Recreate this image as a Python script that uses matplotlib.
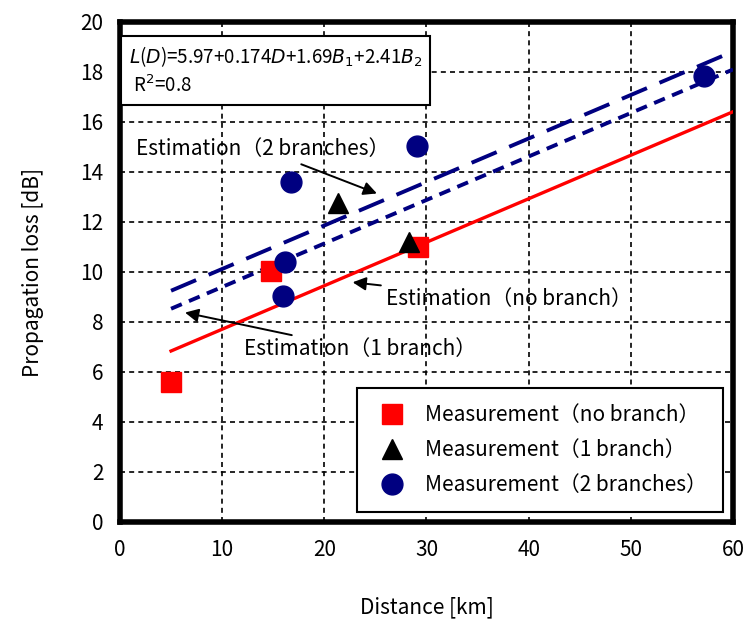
import numpy as np
import matplotlib.pyplot as plt

plt.rcParams['font.family'] = ['Noto Sans CJK JP', 'DejaVu Sans']

# measurements
d_nobranch = [5.0, 14.8, 29.2]
l_nobranch = [5.6, 10.05, 11.0]
d_1branch = [21.3, 28.3]
l_1branch = [12.75, 11.2]
d_2branch = [16.7, 16.2, 16.0, 29.1, 57.2]
l_2branch = [13.6, 10.4, 9.05, 15.05, 17.85]

# regression model L(D) = a + b*D + c1*B1 + c2*B2
a, b, c1, c2 = 5.97, 0.174, 1.69, 2.41
d_fit = np.array([5, 60])

fig = plt.figure(figsize=(7.47, 6.28), dpi=100)
ax = fig.add_axes([0.1606, 0.1688, 0.8207, 0.7962])

ax.plot(d_fit, a + b * d_fit, color='red', lw=2.4, zorder=3)
ax.plot(d_fit, a + b * d_fit + c1, color='#000080', lw=2.8, ls=(0, (3, 2)), zorder=3)
ax.plot(d_fit, a + b * d_fit + c2, color='#000080', lw=2.8, ls=(0, (7, 3.5)), zorder=3)

ax.plot(d_nobranch, l_nobranch, 's', color='red', ms=14, ls='none', zorder=4,
        label='Measurement（no branch）')
ax.plot(d_1branch, l_1branch, '^', color='black', ms=15, ls='none', zorder=4,
        label='Measurement（1 branch）')
ax.plot(d_2branch, l_2branch, 'o', color='#000080', ms=15, ls='none', zorder=4,
        label='Measurement（2 branches）')

ax.set_xlim(0, 60)
ax.set_ylim(0, 20)
ax.set_xticks(range(0, 61, 10))
ax.set_yticks(range(0, 21, 2))
ax.tick_params(labelsize=15, length=0, pad=12)
ax.grid(True, color='black', ls=(0, (3, 2.5)), lw=1.2)
for s in ax.spines.values():
    s.set_linewidth(4)

ax.set_xlabel('Distance [km]', fontsize=15, labelpad=26)
ax.set_ylabel('Propagation loss [dB]', fontsize=15, labelpad=26)

ax.text(0.014, 0.955,
        r'$L$($D$)=5.97+0.174$D$+1.69$B_1$+2.41$B_2$' + '\n' + r' R$^2$=0.8',
        transform=ax.transAxes, fontsize=13.5, va='top', ha='left', linespacing=1.4,
        bbox=dict(boxstyle='square,pad=0.4', fc='white', ec='black', lw=1.5), zorder=5)

arrow = dict(arrowstyle='-|>', color='black', lw=1.4, mutation_scale=20)
ax.annotate('Estimation（2 branches）', xy=(25.4, 13.1), xytext=(1.6, 14.9),
            fontsize=15, va='center', ha='left', arrowprops=arrow)
ax.annotate('Estimation（no branch）', xy=(22.5, 9.6), xytext=(26.0, 8.9),
            fontsize=15, va='center', ha='left', arrowprops=arrow)
ax.annotate('Estimation（1 branch）', xy=(6.1, 8.4), xytext=(12.1, 6.9),
            fontsize=15, va='center', ha='left', arrowprops=arrow)

leg = ax.legend(loc='lower right', bbox_to_anchor=(1.0, 0.0), fontsize=15,
                frameon=True, fancybox=False, edgecolor='black', framealpha=1,
                borderpad=0.75, labelspacing=0.62, handletextpad=0.7, handlelength=1.8)
leg.get_frame().set_linewidth(1.5)
leg.set_zorder(6)

fig.savefig('out.png', dpi=100)
